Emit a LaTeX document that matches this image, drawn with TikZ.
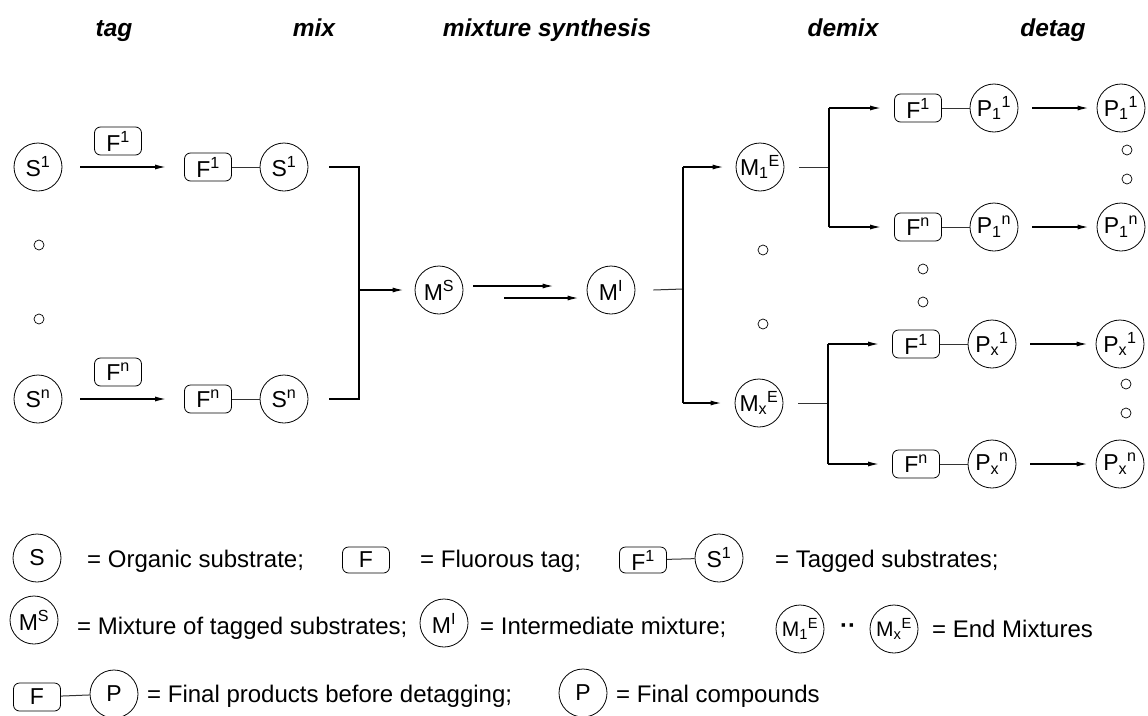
\documentclass[tikz,border=0pt]{standalone}
\usepackage{fontspec}
\setmainfont{Liberation Sans}
\usetikzlibrary{arrows.meta}
\begin{document}
\begin{tikzpicture}[x=1pt,y=-1pt,
  circ/.style={draw, circle, minimum size=48pt, inner sep=0pt, line width=0.8pt, font=\fontsize{23}{27}\selectfont},
  tagbox/.style={draw, rounded corners=6pt, minimum width=47pt, minimum height=28pt, inner sep=0pt, line width=0.8pt, font=\fontsize{23}{27}\selectfont},
  dotc/.style={draw, circle, minimum size=10pt, inner sep=0pt, line width=0.7pt},
  arr/.style={-{Latex[length=12pt,width=5pt]}, line width=1.8pt},
  conn/.style={line width=1pt, black!80},
  brk/.style={line width=1.3pt},
  titletext/.style={anchor=base, font=\fontsize{24.5}{28}\selectfont\bfseries\itshape},
  legtext/.style={anchor=base west, font=\fontsize{24}{28}\selectfont, inner sep=0pt}
]
\useasboundingbox (0,0) rectangle (1148,715);
% titles
\node[titletext] (t1) at (114,36) {tag};
\node[titletext] (t2) at (314,36) {mix};
\node[titletext] (t3) at (547,36) {mixture synthesis};
\node[titletext] (t4) at (843,36) {demix};
\node[titletext] (t5) at (1053,36) {detag};
% left column
\node[circ] (S1) at (38,167) {S\textsuperscript{1}};
\node[circ] (Sn) at (38,399) {S\textsuperscript{n}};
\node[dotc] (d1) at (39,245) {};
\node[dotc] (d2) at (39,319) {};
\node[tagbox] (LF1) at (118,141) {F\textsuperscript{1}};
\node[tagbox] (LFn) at (118,372) {F\textsuperscript{n}};
\node[tagbox] (TF1) at (208,167) {F\textsuperscript{1}};
\node[circ] (TS1) at (284,167) {S\textsuperscript{1}};
\node[tagbox] (TFn) at (208,399) {F\textsuperscript{n}};
\node[circ] (TSn) at (284,399) {S\textsuperscript{n}};
\draw[arr, shorten <=18pt, shorten >=17pt] (S1) -- (TF1);
\draw[arr, shorten <=18pt, shorten >=17pt] (Sn) -- (TFn);
\draw[conn] (TF1) -- (TS1);
\draw[conn] (TFn) -- (TSn);
% mix bracket
\coordinate (bL) at (359,290);
\node[circ] (MS) at (439,290) {M\textsuperscript{S}};
\node[circ] (MI) at (611,290) {M\textsuperscript{I}};
\draw[brk] ([xshift=21pt]TS1.east) -- (TS1.east -| bL) -- (TSn.east -| bL) -- ([xshift=21pt]TSn.east);
\draw[arr, shorten >=10pt] (bL) -- (MS);
\draw[arr] ([shift={(10,-4)}]MS.east) -- ([shift={(-32,-4)}]MI.west);
\draw[arr] ([shift={(41,8)}]MS.east) -- ([shift={(-7,8)}]MI.west);
% demix bracket
\coordinate (bR) at (683,289);
\node[circ] (M1E) at (760,167) {M\textsubscript{1}\textsuperscript{E}};
\node[circ] (MxE) at (759,403) {M\textsubscript{x}\textsuperscript{E}};
\node[dotc] (d3) at (763,250) {};
\node[dotc] (d4) at (763,324) {};
\draw[conn] ([xshift=18pt]MI.east) -- (bR);
\draw[brk] (bR |- M1E) -- (bR |- MxE);
\draw[arr, shorten >=11pt] (bR |- M1E) -- (M1E);
\draw[arr, shorten >=12pt] (bR |- MxE) -- (MxE);
% upper demix branch
\coordinate (b1) at (829,167);
\node[tagbox] (F11) at (918,108) {F\textsuperscript{1}};
\node[circ] (P11) at (994,108) {P\textsubscript{1}\textsuperscript{1}};
\node[circ] (R11) at (1121,108) {P\textsubscript{1}\textsuperscript{1}};
\node[tagbox] (F1n) at (918,227) {F\textsuperscript{n}};
\node[circ] (P1n) at (994,227) {P\textsubscript{1}\textsuperscript{n}};
\node[circ] (R1n) at (1121,227) {P\textsubscript{1}\textsuperscript{n}};
\node[dotc] (d5) at (1127,150) {};
\node[dotc] (d6) at (1127,179) {};
\draw[conn] ([xshift=15pt]M1E.east) -- (b1);
\draw[brk] (b1 |- F11) -- (b1 |- F1n);
\draw[arr, shorten >=12pt] (b1 |- F11) -- (F11);
\draw[arr, shorten >=12pt] (b1 |- F1n) -- (F1n);
\draw[conn] (F11) -- (P11);
\draw[conn] (F1n) -- (P1n);
\draw[arr, shorten <=14pt, shorten >=7pt] (P11) -- (R11);
\draw[arr, shorten <=14pt, shorten >=7pt] (P1n) -- (R1n);
\node[dotc] (d7) at (923,269) {};
\node[dotc] (d8) at (923,302) {};
% lower demix branch
\coordinate (b2) at (828,405);
\node[tagbox] (Fx1) at (916,344) {F\textsuperscript{1}};
\node[circ] (Px1) at (992,344) {P\textsubscript{x}\textsuperscript{1}};
\node[circ] (Rx1) at (1120,344) {P\textsubscript{x}\textsuperscript{1}};
\node[tagbox] (Fxn) at (916,464) {F\textsuperscript{n}};
\node[circ] (Pxn) at (992,464) {P\textsubscript{x}\textsuperscript{n}};
\node[circ] (Rxn) at (1120,464) {P\textsubscript{x}\textsuperscript{n}};
\node[dotc] (d9) at (1126,384) {};
\node[dotc] (d10) at (1126,413) {};
\draw[conn] ([xshift=15pt]MxE.east) -- (b2 |- MxE);
\draw[brk] (b2 |- Fx1) -- (b2 |- Fxn);
\draw[arr, shorten >=12pt] (b2 |- Fx1) -- (Fx1);
\draw[arr, shorten >=12pt] (b2 |- Fxn) -- (Fxn);
\draw[conn] (Fx1) -- (Px1);
\draw[conn] (Fxn) -- (Pxn);
\draw[arr, shorten <=14pt, shorten >=7pt] (Px1) -- (Rx1);
\draw[arr, shorten <=14pt, shorten >=7pt] (Pxn) -- (Rxn);
% legend row 1
\node[circ] (LS) at (37,558) {S};
\node[legtext] (LT1) at (87,567) {= Organic substrate;};
\node[tagbox, minimum height=26pt] (LF) at (366,560) {F};
\node[legtext] (LT2) at (420,567) {= Fluorous tag;};
\node[tagbox, minimum height=26pt] (LFa) at (643,560) {F\textsuperscript{1}};
\node[circ] (LSa) at (719,558) {S\textsuperscript{1}};
\draw[conn] (LFa) -- (LSa);
\node[legtext] (LT3) at (775,567) {= Tagged substrates;};
% legend row 2
\node[circ] (LMS) at (34,620) {M\textsuperscript{S}};
\node[legtext] (LT4) at (77,634) {= Mixture of tagged substrates;};
\node[circ] (LMI) at (444,623) {M\textsuperscript{I}};
\node[legtext] (LT5) at (480,634) {= Intermediate mixture;};
\node[circ, font=\fontsize{21}{25}\selectfont] (LM1) at (800,629) {M\textsubscript{1}\textsuperscript{E}};
\node[font=\fontsize{24}{28}\selectfont\bfseries] (LDD) at (848,629) {··};
\node[circ, font=\fontsize{21}{25}\selectfont] (LMx) at (894,629) {M\textsubscript{x}\textsuperscript{E}};
\node[legtext] (LT6) at (932,637) {= End Mixtures};
% legend row 3
\node[tagbox] (LF3) at (37,697) {F};
\node[circ] (LP) at (114,694) {P};
\draw[conn] (LF3) -- (LP);
\node[legtext] (LT7) at (147,702) {= Final products before detagging;};
\node[circ] (LP2) at (583,693) {P};
\node[legtext] (LT8) at (616,702) {= Final compounds};
\end{tikzpicture}
\end{document}
